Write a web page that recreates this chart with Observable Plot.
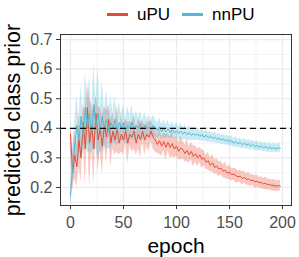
<!DOCTYPE html>
<html>
<head>
<meta charset="utf-8">
<script src="https://cdn.jsdelivr.net/npm/d3@7"></script>
<script src="https://cdn.jsdelivr.net/npm/@observablehq/plot@0.6"></script>
<style>
  html, body { margin: 0; padding: 0; background: white; }
  body { width: 299px; height: 257px; overflow: hidden; font-family: "Liberation Sans", Arial, sans-serif; position: relative; }
  #legend { position: absolute; left: 0; top: 0; height: 28px; width: 299px; z-index: 2; }
  #legend .key { position: absolute; height: 3px; top: 13px; }
  #legend .lab { position: absolute; top: 6px; font-size: 17px; line-height: 17px; color: #000; white-space: nowrap; }
  svg { display: block; }
</style>
</head>
<body>
<div id="chart"></div>
<div id="legend"></div>
<script>
const seriesNames = ["uPU", "nnPU"];
const seriesColors = ["#E64B35", "#4DBBD5"];
const epochs = d3.range(0, 200, 2);

const uPU = [
  0.38, 0.25, 0.31, 0.27, 0.36, 0.30, 0.42, 0.33, 0.47, 0.35,
  0.41, 0.33, 0.45, 0.36, 0.40, 0.34, 0.41, 0.37, 0.43, 0.35,
  0.39, 0.36, 0.40, 0.35, 0.38, 0.36, 0.39, 0.35, 0.38, 0.37,
  0.39, 0.35, 0.38, 0.36, 0.39, 0.36, 0.38, 0.37, 0.39, 0.37,
  0.36, 0.345, 0.358, 0.34, 0.355, 0.336, 0.352, 0.335, 0.348, 0.33,
  0.34, 0.322, 0.333, 0.328, 0.315, 0.325, 0.31, 0.322, 0.305, 0.314,
  0.30, 0.31, 0.295, 0.30, 0.285, 0.29, 0.275, 0.283, 0.268, 0.272,
  0.262, 0.265, 0.255, 0.258, 0.248, 0.252, 0.243, 0.245, 0.24, 0.236,
  0.238, 0.231, 0.234, 0.227, 0.229, 0.223, 0.225, 0.219, 0.221, 0.216,
  0.217, 0.212, 0.214, 0.209, 0.21, 0.206, 0.208, 0.204, 0.206, 0.205
];
const uPUsd = [
  0.05, 0.06, 0.08, 0.07, 0.09, 0.08, 0.06, 0.13, 0.08, 0.15,
  0.07, 0.12, 0.06, 0.11, 0.07, 0.10, 0.06, 0.09, 0.05, 0.08,
  0.06, 0.05, 0.08, 0.04, 0.06, 0.05, 0.04, 0.07, 0.04, 0.05,
  0.06, 0.04, 0.05, 0.06, 0.035, 0.05, 0.04, 0.05, 0.035, 0.04,
  0.04, 0.03, 0.045, 0.035, 0.03, 0.045, 0.03, 0.035, 0.045, 0.03,
  0.035, 0.028, 0.04, 0.03, 0.028, 0.038, 0.028, 0.03, 0.035, 0.027,
  0.03, 0.026, 0.032, 0.026, 0.024, 0.03, 0.024, 0.03, 0.024, 0.026,
  0.025, 0.023, 0.022, 0.027, 0.021, 0.024, 0.022, 0.02, 0.024, 0.02,
  0.02, 0.023, 0.02, 0.019, 0.022, 0.02, 0.018, 0.021, 0.02, 0.018,
  0.02, 0.018, 0.021, 0.018, 0.019, 0.018, 0.02, 0.018, 0.018, 0.018
];
const nnPU = [
  0.17, 0.27, 0.34, 0.41, 0.36, 0.44, 0.37, 0.47, 0.40, 0.45,
  0.38, 0.48, 0.41, 0.45, 0.39, 0.44, 0.40, 0.43, 0.39, 0.42,
  0.40, 0.43, 0.39, 0.42, 0.40, 0.42, 0.39, 0.41, 0.40, 0.42,
  0.395, 0.41, 0.40, 0.415, 0.395, 0.41, 0.40, 0.405, 0.395, 0.41,
  0.40, 0.392, 0.405, 0.388, 0.40, 0.388, 0.398, 0.386, 0.396, 0.384,
  0.392, 0.383, 0.39, 0.381, 0.387, 0.378, 0.385, 0.376, 0.382, 0.376,
  0.381, 0.373, 0.378, 0.371, 0.376, 0.368, 0.373, 0.366, 0.37, 0.363,
  0.367, 0.36, 0.364, 0.358, 0.361, 0.355, 0.358, 0.35, 0.355, 0.348,
  0.352, 0.345, 0.349, 0.343, 0.347, 0.34, 0.345, 0.338, 0.342, 0.336,
  0.34, 0.334, 0.338, 0.332, 0.336, 0.331, 0.335, 0.33, 0.334, 0.332
];
const nnPUsd = [
  0.03, 0.06, 0.08, 0.10, 0.07, 0.11, 0.06, 0.12, 0.08, 0.13,
  0.07, 0.14, 0.08, 0.16, 0.07, 0.12, 0.06, 0.10, 0.06, 0.09,
  0.05, 0.08, 0.05, 0.07, 0.045, 0.06, 0.04, 0.065, 0.04, 0.06,
  0.035, 0.05, 0.035, 0.045, 0.03, 0.045, 0.03, 0.04, 0.03, 0.035,
  0.03, 0.025, 0.032, 0.024, 0.03, 0.024, 0.028, 0.022, 0.028, 0.022,
  0.027, 0.021, 0.026, 0.02, 0.025, 0.02, 0.024, 0.019, 0.022, 0.018,
  0.02, 0.017, 0.02, 0.016, 0.019, 0.016, 0.018, 0.016, 0.018, 0.016,
  0.017, 0.015, 0.017, 0.015, 0.016, 0.015, 0.017, 0.015, 0.016, 0.015,
  0.016, 0.014, 0.016, 0.014, 0.015, 0.016, 0.014, 0.015, 0.016, 0.014,
  0.015, 0.014, 0.016, 0.014, 0.015, 0.014, 0.015, 0.014, 0.015, 0.015
];
const priorLine = 0.4;
const xTicks = [0, 50, 100, 150, 200];
const xMinor = [25, 75, 125, 175];
const yTicks = [0.2, 0.3, 0.4, 0.5, 0.6, 0.7];
const yMinor = [0.15, 0.25, 0.35, 0.45, 0.55, 0.65];

const means = [uPU, nnPU];
const sds = [uPUsd, nnPUsd];
const rows = [];
seriesNames.forEach((s, k) => {
  epochs.forEach((e, i) => {
    rows.push({series: s, epoch: e, y: means[k][i], lo: means[k][i] - sds[k][i], hi: means[k][i] + sds[k][i]});
  });
});

// legend
const legend = document.getElementById("legend");
const keyX = [107, 182];
const labX = [137, 212];
seriesNames.forEach((s, k) => {
  const key = document.createElement("div");
  key.className = "key";
  key.style.left = keyX[k] + "px";
  key.style.width = "21px";
  key.style.background = seriesColors[k];
  legend.appendChild(key);
  const lab = document.createElement("div");
  lab.className = "lab";
  lab.style.left = labX[k] + "px";
  lab.textContent = s;
  legend.appendChild(lab);
});

const chart = Plot.plot({
  width: 299,
  height: 257,
  marginLeft: 60,
  marginRight: 8,
  marginTop: 34,
  marginBottom: 52,
  style: {fontFamily: "Liberation Sans, Arial, sans-serif", background: "white"},
  x: {domain: [-9.43, 208.5]},
  y: {domain: [0.139, 0.717]},
  color: {domain: seriesNames, range: seriesColors},
  marks: [
    Plot.ruleX(xMinor, {stroke: "#ebebeb", strokeWidth: 0.6}),
    Plot.ruleY(yMinor, {stroke: "#ebebeb", strokeWidth: 0.6}),
    Plot.ruleX(xTicks, {stroke: "#ebebeb", strokeWidth: 1.2}),
    Plot.ruleY(yTicks, {stroke: "#ebebeb", strokeWidth: 1.2}),
    Plot.areaY(rows, {x: "epoch", y1: "lo", y2: "hi", z: "series", fill: "series", fillOpacity: 0.3}),
    Plot.lineY(rows, {x: "epoch", y: "y", z: "series", stroke: "series", strokeWidth: 1}),
    Plot.ruleY([priorLine], {stroke: "black", strokeWidth: 1.3, strokeDasharray: "6,4"}),
    Plot.frame({stroke: "#333333", strokeWidth: 1}),
    Plot.axisX({ticks: xTicks, tickSize: 4, tickPadding: 7, fontSize: 16, stroke: "#333333", fill: "#4d4d4d", label: null}),
    Plot.axisY({ticks: yTicks, tickFormat: d3.format(".1f"), tickSize: 4, tickPadding: 4, fontSize: 16, stroke: "#333333", fill: "#4d4d4d", label: null}),
    Plot.text(["epoch"], {frameAnchor: "bottom", dy: 47, lineAnchor: "bottom", textAnchor: "middle", fontSize: 21, fill: "black"}),
    Plot.text(["predicted class prior"], {frameAnchor: "left", dx: -47, rotate: -90, lineAnchor: "middle", textAnchor: "middle", fontSize: 21.5, fill: "black"})
  ]
});
document.getElementById("chart").appendChild(chart);
</script>
</body>
</html>
